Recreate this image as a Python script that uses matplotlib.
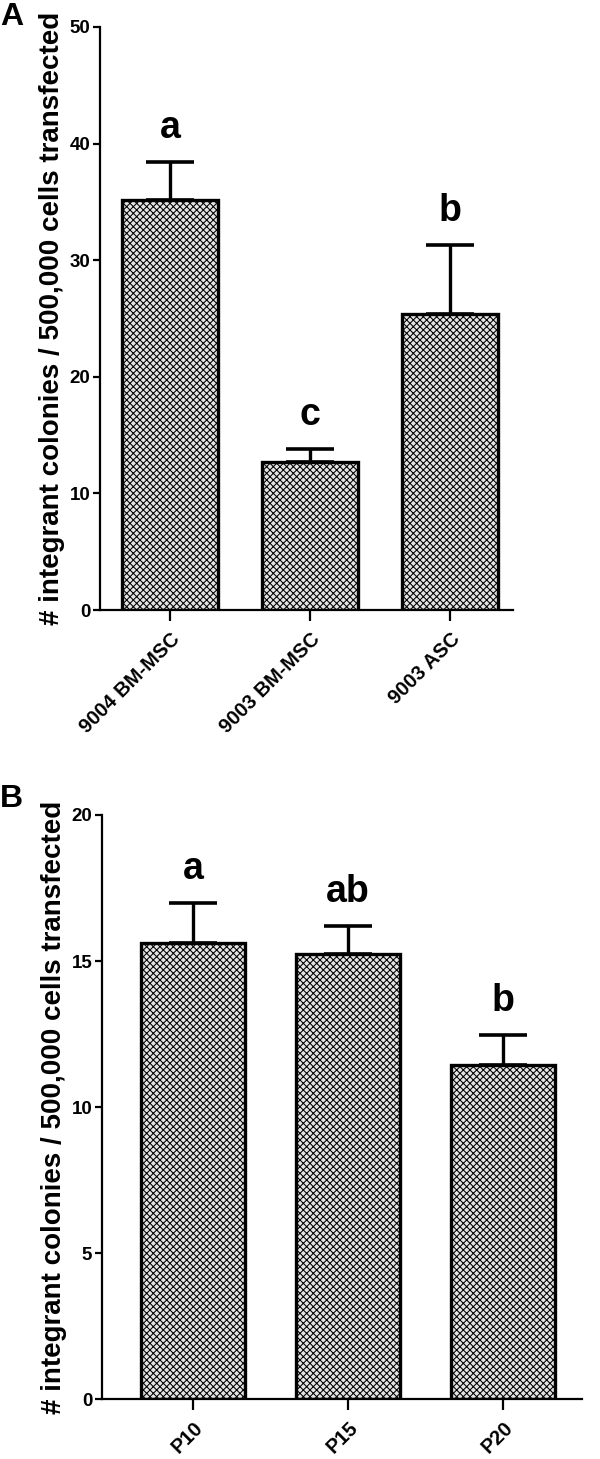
import numpy as np
import matplotlib
matplotlib.use("Agg")
import matplotlib.pyplot as plt

plt.rcParams['font.family'] = ['Liberation Sans', 'DejaVu Sans']
plt.rcParams['font.weight'] = 'bold'
plt.rcParams['hatch.linewidth'] = 0.75
plt.rcParams['hatch.color'] = '#303030'

# panel A
cells_a = ['9004 BM-MSC', '9003 BM-MSC', '9003 ASC']
mean_a = [35.2, 12.7, 25.4]
sem_a = [3.2, 1.1, 5.9]
letters_a = ['a', 'c', 'b']

# panel B
passage_b = ['P10', 'P15', 'P20']
mean_b = [15.6, 15.25, 11.45]
sem_b = [1.4, 0.95, 1.0]
letters_b = ['a', 'ab', 'b']

ylab = '# integrant colonies / 500,000 cells transfected'

fig = plt.figure(figsize=(6.0, 14.59), dpi=100)
axA = fig.add_axes([0.1667, 0.5819, 0.855 - 0.1667, 0.9815 - 0.5819])
axB = fig.add_axes([0.17, 0.0411, 0.97 - 0.17, 0.4414 - 0.0411])


def draw(ax, names, means, errs, letters, ymax, step, xlim, width, pad):
    x = np.arange(len(names))
    ax.bar(x, means, width=width, color='#e4e4e4', edgecolor='black',
           linewidth=2.4, hatch='xxxxx', zorder=2)
    ax.errorbar(x, means, yerr=[np.zeros(len(errs)), errs], fmt='none',
                ecolor='black', elinewidth=2.4, capsize=17, capthick=2.6, zorder=1)
    for xi, m, e, l in zip(x, means, errs, letters):
        ax.text(xi, m + e + pad, l, ha='center', va='bottom',
                fontsize=27, fontweight='bold')
    ax.set_ylim(0, ymax)
    ax.set_xlim(*xlim)
    ax.set_yticks(np.arange(0, ymax + step / 2, step))
    ax.set_xticks(x)
    ax.set_xticklabels(names, rotation=45, ha='right', rotation_mode='anchor',
                       fontsize=14.5, fontweight='bold')
    for lab in ax.get_yticklabels():
        lab.set_fontsize(13.5)
        lab.set_fontweight('bold')
    for s in ['top', 'right']:
        ax.spines[s].set_visible(False)
    for s in ['left', 'bottom']:
        ax.spines[s].set_linewidth(1.6)
    ax.tick_params(axis='y', direction='out', length=5, width=1.6, pad=2)
    ax.tick_params(axis='x', direction='out', length=8, width=1.6, pad=6)
    ax.set_ylabel(ylab, fontsize=20, fontweight='bold', labelpad=3)


draw(axA, cells_a, mean_a, sem_a, letters_a, 50, 10, (-0.5, 2.45), 0.68, 1.4)
draw(axB, passage_b, mean_b, sem_b, letters_b, 20, 5, (-0.587, 2.51), 0.67, 0.55)

fig.text(0.0, 0.9985, 'A', fontsize=23, fontweight='bold', va='top', ha='left')
fig.text(0.0, 0.4625, 'B', fontsize=23, fontweight='bold', va='top', ha='left')

fig.savefig('out.png', dpi=100)
